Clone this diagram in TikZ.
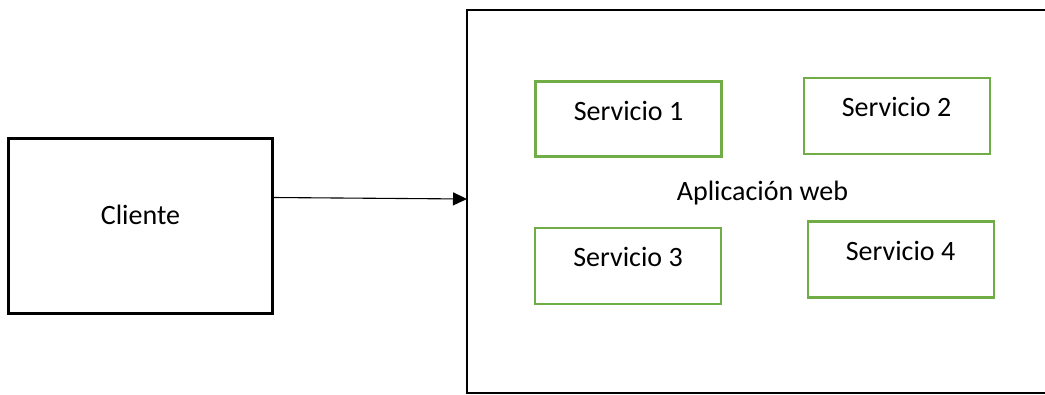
\documentclass[tikz,border=0pt]{standalone}
\usepackage{fontspec}
\setmainfont{Carlito}
\usetikzlibrary{arrows.meta}
\definecolor{svcgreen}{HTML}{70AD47}
\tikzset{
  box/.style={draw=black, line width=2.6pt, fill=none, inner sep=0pt, outer sep=0pt, rectangle},
  frame/.style={draw=none, inner sep=0pt, outer sep=0pt, rectangle},
  svc/.style={draw=svcgreen, line width=2.5pt, inner sep=0pt, outer sep=0pt, rectangle,
              minimum width=186pt, minimum height=75pt},
  lbl/.style={font=\fontsize{28}{34}\selectfont, inner sep=0pt, anchor=base, text=black},
  link/.style={line width=1.1pt, -{Triangle[length=14pt,width=13pt]}}
}
\begin{document}
\begin{tikzpicture}[x=1pt, y=-1pt]
  \path[use as bounding box, fill=white] (0,0) rectangle (1045,394);
  % client box
  \node[box, minimum width=264.5pt, minimum height=175pt] (cliente) at (140.5,225.8) {};
  \node[lbl] (tcliente) at (140.5,224) {Cliente};
  % web application container, open towards the right edge
  \node[frame, minimum width=600pt, minimum height=383pt] (app) at (767,201.5) {};
  \draw[line width=2.6pt] (app.north east) -- (app.north west) -- (app.south west) -- (app.south east);
  \node[lbl] (tapp) at (762.5,200) {Aplicación web};
  % services
  \node[svc] (s1) at (628.5,118.8) {};
  \node[svc, minimum height=76pt] (s2) at (897,116) {};
  \node[svc, minimum height=76pt] (s3) at (628,265.8) {};
  \node[svc, minimum height=76pt] (s4) at (901,259.7) {};
  \node[lbl] (t1) at (628.5,120) {Servicio 1};
  \node[lbl] (t2) at (896.5,116.7) {Servicio 2};
  \node[lbl] (t3) at (628,266.7) {Servicio 3};
  \node[lbl] (t4) at (900.5,260.7) {Servicio 4};
  % request arrow
  \draw[link] ([yshift=28.3pt]cliente.east) -- ([yshift=2.5pt]app.west);
\end{tikzpicture}
\end{document}
